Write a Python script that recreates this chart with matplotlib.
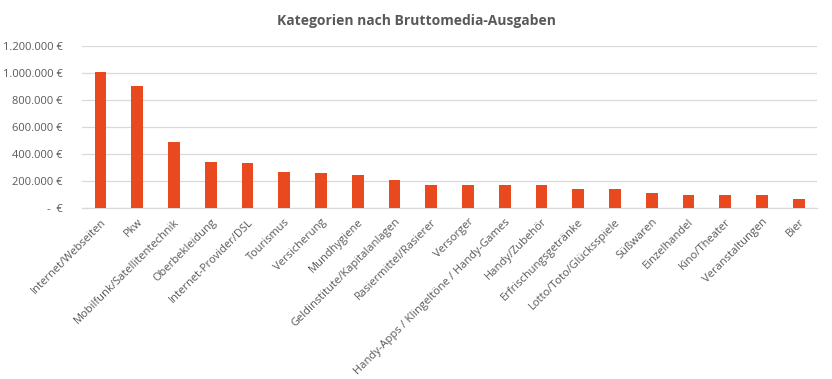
"""Bar chart: Kategorien nach Bruttomedia-Ausgaben."""

import matplotlib

matplotlib.use("Agg")
import matplotlib.pyplot as plt
from matplotlib.ticker import FuncFormatter

CATEGORIES = [
    "Internet/Webseiten",
    "Pkw",
    "Mobilfunk/Satellitentechnik",
    "Oberbekleidung",
    "Internet-Provider/DSL",
    "Tourismus",
    "Versicherung",
    "Mundhygiene",
    "Geldinstitute/Kapitalanlagen",
    "Rasiermittel/Rasierer",
    "Versorger",
    "Handy-Apps / Klingeltöne / Handy-Games",
    "Handy/Zubehör",
    "Erfrischungsgetränke",
    "Lotto/Toto/Glücksspiele",
    "Süßwaren",
    "Einzelhandel",
    "Kino/Theater",
    "Veranstaltungen",
    "Bier",
]
SPENDING = [
    1004000, 906000, 491000, 343000, 336000, 269000, 262000, 247000, 210000,
    173000, 173000, 173000, 173000, 143000, 143000, 113000, 99000, 99000,
    99000, 69000,
]
Y_TICKS = [0, 200000, 400000, 600000, 800000, 1000000, 1200000]

BAR_COLOR = "#E8491F"
TEXT_COLOR = "#595959"
GRID_COLOR = "#D9D9D9"

plt.rcParams["font.family"] = ["Open Sans", "DejaVu Sans"]


def euro(value, _pos):
    if value == 0:
        return "-  €"
    return f"{value:,.0f} €".replace(",", ".")


fig = plt.figure(figsize=(8.32, 3.79), dpi=100)
ax = fig.add_axes([0.0986, 0.451, 0.8834, 0.428])

x = range(len(CATEGORIES))
ax.bar(x, SPENDING, width=0.32, color=BAR_COLOR, zorder=3)

ax.set_xlim(-0.5, len(CATEGORIES) - 0.5)
ax.set_ylim(0, 1200000)
ax.set_yticks(Y_TICKS)
ax.yaxis.set_major_formatter(FuncFormatter(euro))
ax.set_xticks(list(x))
ax.set_xticklabels(
    CATEGORIES, rotation=45, ha="right", rotation_mode="anchor", fontsize=8, color=TEXT_COLOR
)
ax.tick_params(axis="y", labelsize=8, labelcolor=TEXT_COLOR, length=0, pad=14)
ax.tick_params(axis="x", length=0, pad=6)

ax.grid(axis="y", color=GRID_COLOR, linewidth=0.9, zorder=0)
for side in ("top", "right", "left"):
    ax.spines[side].set_visible(False)
ax.spines["bottom"].set_color(GRID_COLOR)
ax.spines["bottom"].set_linewidth(0.9)

fig.text(
    0.5, 0.945, "Kategorien nach Bruttomedia-Ausgaben",
    ha="center", va="center", fontsize=10, fontweight="bold", color=TEXT_COLOR,
)

fig.savefig("out.png", dpi=100, facecolor="white")
